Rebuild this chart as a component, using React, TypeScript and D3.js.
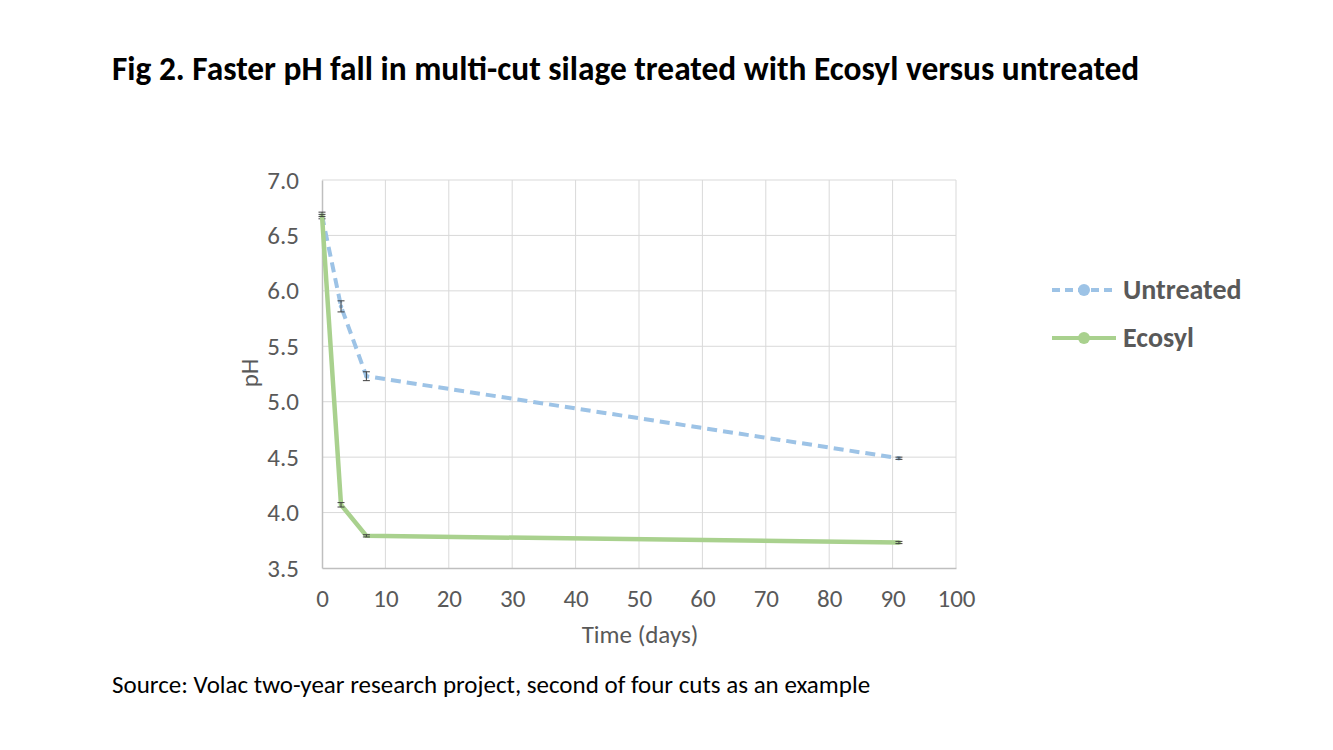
import { useEffect, useRef } from 'react';
import * as d3 from 'd3';

const days = [0, 3, 7, 91];
const untreated = [6.68, 5.86, 5.23, 4.49];
const ecosyl = [6.68, 4.07, 3.79, 3.73];
const untreatedErr = [0.03, 0.05, 0.04, 0.01];
const ecosylErr = [0.01, 0.02, 0.01, 0.01];
const xTicks = [0, 10, 20, 30, 40, 50, 60, 70, 80, 90, 100];
const yTicks = [3.5, 4.0, 4.5, 5.0, 5.5, 6.0, 6.5, 7.0];

const seriesList = [
  { name: 'Untreated', values: untreated, err: untreatedErr, color: '#9DC3E6', dash: '10,6', w: 4 },
  { name: 'Ecosyl', values: ecosyl, err: ecosylErr, color: '#A9D18E', dash: null, w: 4.5 },
];

export default function App() {
  const svgRef = useRef<SVGSVGElement>(null);

  useEffect(() => {
    if (!svgRef.current) return;
    const width = 1333;
    const height = 750;
    const font = 'Carlito, "Open Sans", "Liberation Sans", sans-serif';
    const svg = d3.select(svgRef.current);
    svg.selectAll('*').remove();
    svg.attr('width', width).attr('height', height);

    const x = d3.scaleLinear().domain([0, 100]).range([322, 956]);
    const y = d3.scaleLinear().domain([3.5, 7.0]).range([568, 180]);

    // Title
    svg.append('text')
      .attr('x', 112).attr('y', 80)
      .attr('font-family', font).attr('font-weight', 'bold')
      .attr('font-size', 33.4).attr('fill', '#000')
      .text('Fig 2. Faster pH fall in multi-cut silage treated with Ecosyl versus untreated');

    // Grid
    const grid = svg.append('g');
    xTicks.slice(1).forEach((t) => {
      grid.append('line')
        .attr('x1', x(t)).attr('x2', x(t)).attr('y1', y(7.0)).attr('y2', y(3.5))
        .attr('stroke', '#D9D9D9').attr('stroke-width', 1);
    });
    yTicks.slice(1).forEach((t) => {
      grid.append('line')
        .attr('x1', x(0)).attr('x2', x(100)).attr('y1', y(t)).attr('y2', y(t))
        .attr('stroke', '#D9D9D9').attr('stroke-width', 1);
    });

    // Axes
    const xAxis = svg.append('g')
      .attr('transform', `translate(0,${y(3.5)})`)
      .call(d3.axisBottom(x).tickValues(xTicks).tickSize(0).tickPadding(21).tickFormat((d) => `${d}`));
    const yAxis = svg.append('g')
      .attr('transform', `translate(${x(0)},0)`)
      .call(d3.axisLeft(y).tickValues(yTicks).tickSize(0).tickPadding(23).tickFormat(d3.format('.1f')));
    [xAxis, yAxis].forEach((a) => {
      a.select('.domain').attr('stroke', '#BFBFBF').attr('stroke-width', 1.5);
      a.selectAll('text')
        .attr('font-family', font).attr('font-size', 25).attr('fill', '#595959');
    });

    // Axis titles
    svg.append('text')
      .attr('x', (x(0) + x(100)) / 2 + 1).attr('y', 643)
      .attr('text-anchor', 'middle')
      .attr('font-family', font).attr('font-size', 25).attr('fill', '#595959')
      .text('Time (days)');
    svg.append('text')
      .attr('transform', `translate(258,${(y(3.5) + y(7)) / 2 - 1}) rotate(-90)`)
      .attr('text-anchor', 'middle')
      .attr('font-family', font).attr('font-size', 25).attr('fill', '#595959')
      .text('pH');

    const line = d3.line<number>()
      .x((_, i) => x(days[i]))
      .y((d) => y(d));

    // Series (Untreated drawn first, Ecosyl on top)
    seriesList.forEach((s) => {
      const path = svg.append('path')
        .datum(s.values)
        .attr('fill', 'none')
        .attr('stroke', s.color)
        .attr('stroke-width', s.w)
        .attr('stroke-linejoin', 'round')
        .attr('d', line);
      if (s.dash) path.attr('stroke-dasharray', s.dash);

      svg.append('g').selectAll('circle')
        .data(s.values)
        .join('circle')
        .attr('cx', (_, i) => x(days[i]))
        .attr('cy', (d) => y(d))
        .attr('r', 2.2)
        .attr('fill', s.color);

      // Error bars
      const eb = svg.append('g').attr('stroke', '#404040').attr('stroke-width', 1);
      s.values.forEach((v, i) => {
        const cx = x(days[i]);
        const e = s.err[i];
        eb.append('line').attr('x1', cx).attr('x2', cx).attr('y1', y(v + e)).attr('y2', y(v - e));
        eb.append('line').attr('x1', cx - 3.5).attr('x2', cx + 3.5).attr('y1', y(v + e)).attr('y2', y(v + e));
        eb.append('line').attr('x1', cx - 3.5).attr('x2', cx + 3.5).attr('y1', y(v - e)).attr('y2', y(v - e));
      });
    });

    // Legend
    seriesList.forEach((s, i) => {
      const ly = 290 + i * 48;
      const g = svg.append('g');
      const l = g.append('line')
        .attr('x1', 1052).attr('x2', 1116).attr('y1', ly).attr('y2', ly)
        .attr('stroke', s.color).attr('stroke-width', 4);
      if (s.dash) l.attr('stroke-dasharray', '8,5');
      g.append('circle').attr('cx', 1084).attr('cy', ly).attr('r', 6).attr('fill', s.color);
      g.append('text')
        .attr('x', 1123).attr('y', ly + 9)
        .attr('font-family', font).attr('font-weight', 'bold')
        .attr('font-size', 28).attr('fill', '#595959')
        .text(s.name);
    });

    // Source
    svg.append('text')
      .attr('x', 112).attr('y', 693)
      .attr('font-family', font).attr('font-size', 25).attr('fill', '#000')
      .text('Source: Volac two-year research project, second of four cuts as an example');
  }, []);

  return (
    <div style={{ position: 'absolute', left: 0, top: 0, background: '#fff' }}>
      <svg ref={svgRef} style={{ display: 'block' }} />
    </div>
  );
}
